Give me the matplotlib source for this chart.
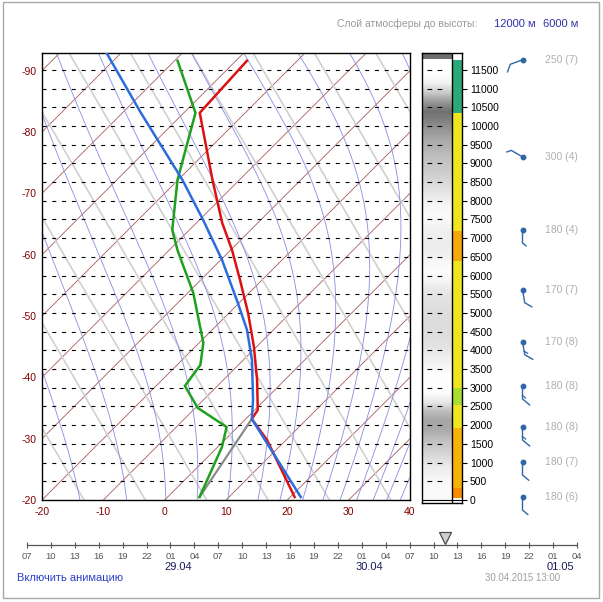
import numpy as np
import matplotlib
matplotlib.use("Agg")
import matplotlib.pyplot as plt
from matplotlib.patches import Rectangle

plt.rcParams['font.family'] = ['Liberation Sans', 'DejaVu Sans']

W, H = 603, 602

# --- data ----------------------------------------------------------------
# temperature profile (height m, deg C)
temp_h = [80, 1605, 2166, 2407, 3209, 4092, 5001, 5884, 6686, 7408, 8558, 10350, 11741]
temp_t = [20.7, 6.9, 1.0, 0.5, -4.5, -10.4, -16.9, -23.6, -29.8, -35.8, -44.4, -57.4, -58.2]

# dew point profile
dew_h = [80, 1417, 1952, 2460, 3049, 3610, 4199, 5536, 6686, 7221, 8558, 10350, 11741]
dew_t = [5.2, 0.7, -1.8, -9.6, -15.3, -16.2, -19.3, -29.1, -38.7, -42.8, -50.1, -58.1, -69.5]

# parcel (state) curve
parcel_h = [80, 2166, 2674, 3744, 4546, 5269, 6419, 7488, 8558, 10350, 11955]
parcel_t = [21.7, 1.0, -1.9, -8.6, -14.3, -20.2, -29.8, -39.4, -49.3, -67.0, -82.4]

# dew point -> condensation level
cond_h = [80, 2166]
cond_t = [5.2, 1.0]

# background diagram lines
isotherms = list(range(-110, 41, 10))
dry_theta = list(range(260, 351, 10))          # K
moist_start = [-30, -21.5, -13.8, -6.2, 0.2, 5.3, 10.3, 15.2, 18.8,
               22.5, 25.8, 28.6, 31.3, 34.0, 36.2, 38.4]   # surface deg C

x_ticks = [-20, -10, 0, 10, 20, 30, 40]
left_labels = [-20, -30, -40, -50, -60, -70, -80, -90]
height_ticks = list(range(0, 11501, 500))

# cloud shading per 250 m layer (0 = black, 255 = white)
cloud_gray = [250, 248, 244, 235, 220, 205, 190, 170, 165, 190,
              232, 252, 254, 252, 244, 236, 226, 222, 220, 220,
              222, 226, 232, 246, 252, 246, 238, 236, 238, 245,
              250, 244, 234, 222, 210, 200, 192, 180, 168, 150,
              130, 112, 150, 200, 240, 255, 255]

# coloured layer strip
band_lo = [10350, 7190, 6390, 3000, 2540, 1925, 320, 50]
band_hi = [11767, 10350, 7190, 6390, 3000, 2540, 1925, 320]
band_col = ['#2ea87a', '#f0e620', '#f7a80c', '#f0e620', '#a6de32', '#f0e620', '#f7b20a', '#f78c00']

# wind
wind_h = [80, 1016, 1952, 3049, 4226, 5616, 7221, 9173, 11767]
wind_dir = [180, 180, 180, 180, 170, 170, 180, 300, 250]
wind_spd = [6, 7, 8, 8, 8, 7, 4, 4, 7]

# time line
hour_labels = ['07', '10', '13', '16', '19', '22', '01', '04'] * 3
date_idx = [6, 14, 22]
date_labels = ['29.04', '30.04', '01.05']
time_marker = 17.5

# --- geometry ------------------------------------------------------------
H_TOP = 11950.0
X_MIN, X_MAX = -20, 40
AX_L, AX_R, AX_T, AX_B = 42, 410, 53, 500
M_PER_PX = H_TOP / (AX_B - AX_T)
SKEW = (1.0 / M_PER_PX) / ((AX_R - AX_L) / (X_MAX - X_MIN))   # 45 deg isotherms
DRY_LAPSE = 0.00965


def pres(h):
    return 1013.25 * (1 - 0.0065 * h / 288.15) ** 5.2559


def theta_e(tc, p):
    tk = tc + 273.15
    es = 6.112 * np.exp(17.67 * tc / (tc + 243.5))
    rs = 0.622 * es / (p - es)
    return tk * (1000.0 / p) ** 0.2854 * np.exp(2.5e6 * rs / (1004.0 * tk))


def skx(t, h):
    return np.asarray(t) + SKEW * np.asarray(h)


fig = plt.figure(figsize=(W / 100, H / 100), dpi=100)
fig.patch.set_facecolor('white')

ax = fig.add_axes([AX_L / W, 1 - AX_B / H, (AX_R - AX_L) / W, (AX_B - AX_T) / H])
ax.set_xlim(X_MIN, X_MAX)
ax.set_ylim(0, H_TOP)

hh = np.linspace(0, H_TOP, 240)
for t in isotherms:
    ax.plot(skx(t, hh), hh, color='#a65a5a', lw=0.6, zorder=1)
for th in dry_theta:
    ax.plot(skx(th - 273.15 - DRY_LAPSE * hh, hh), hh, color='#d0d0d0', lw=1.2, zorder=1)

pp = pres(hh)
tgrid = np.linspace(-130, 50, 3601)
te_grid = theta_e(tgrid[None, :], pp[:, None])
for t0 in moist_start:
    target = theta_e(t0, pres(0.0))
    tprof = np.array([np.interp(target, te_grid[i], tgrid) for i in range(len(hh))])
    ax.plot(skx(tprof, hh), hh, color='#8a8ae6', lw=0.6, zorder=1)

for h in height_ticks[1:]:
    ax.axhline(h, color='black', lw=0.8, ls=(0, (3.6, 5.2)), zorder=2)

ax.plot(skx(cond_t, cond_h), cond_h, color='#8a8a8a', lw=1.6, zorder=3)
ax.plot(skx(dew_t, dew_h), dew_h, color='#1fa01f', lw=1.8, zorder=4)
ax.plot(skx(temp_t, temp_h), temp_h, color='#dd1111', lw=1.8, zorder=4)
ax.plot(skx(parcel_t, parcel_h), parcel_h, color='#2b6de0', lw=1.8, zorder=5)

ax.set_xticks(x_ticks)
ax.set_xticklabels([str(v) for v in x_ticks])
ax.set_yticks([(-20 - v) / SKEW for v in left_labels])
ax.set_yticklabels([str(v) for v in left_labels])
ax.tick_params(axis='x', length=0, pad=5, labelsize=7.5, labelcolor='#800000')
ax.tick_params(axis='y', length=0, pad=3.6, labelsize=7.5, labelcolor='#800000')
for s in ax.spines.values():
    s.set_linewidth(1.0)

# --- side panel ------------------------------------------------------------
pax = fig.add_axes([422 / W, 1 - 503 / H, 40 / W, 450 / H])
pax.set_xlim(0, 40)
pax.set_ylim(-80, H_TOP)
col = np.repeat(np.array(cloud_gray, dtype=float)[:, None], 2, axis=1)
pax.imshow(col, origin='lower', extent=(0, 30, 0, 250 * len(cloud_gray)), cmap='gray',
           vmin=0, vmax=255, interpolation='bilinear', aspect='auto', zorder=0)
pax.add_patch(Rectangle((0, 11790), 30, H_TOP - 11790, color='#6e6e6e', lw=0, zorder=1))
for lo, hi, c in zip(band_lo, band_hi, band_col):
    pax.fill_between([30, 40], lo, hi, color=c, lw=0, zorder=1)
pax.hlines(height_ticks[1:], 5, 23, colors='black', lw=0.8, linestyles=[(0, (4.3, 4.7))], zorder=2)
pax.axvline(30, color='black', lw=1.0, zorder=3)
pax.axhline(0, color='black', lw=0.8, zorder=3)
pax.yaxis.tick_right()
pax.set_yticks(height_ticks)
pax.set_yticklabels([str(v) for v in height_ticks])
pax.set_xticks([])
pax.tick_params(axis='y', length=3.5, width=0.8, pad=2.2, labelsize=7.5)
for s in pax.spines.values():
    s.set_linewidth(1.0)

# --- wind ------------------------------------------------------------------
wax = fig.add_axes([480 / W, 1 - AX_B / H, 123 / W, (AX_B - AX_T) / H])
wax.set_xlim(480, 603)
wax.set_ylim(0, H_TOP)
wax.axis('off')
for h, d, v in zip(wind_h, wind_dir, wind_spd):
    x0 = 522.5
    a = np.radians(d)
    ux, uy = np.sin(a), np.cos(a)
    x1, y1 = x0 + 13 * ux, h + 13 * uy * M_PER_PX
    phi = np.arctan2(uy, ux) + np.radians(50)
    bl = 1.15 * v
    x2, y2 = x1 + bl * np.cos(phi), y1 + bl * np.sin(phi) * M_PER_PX
    wax.plot([x0, x1, x2], [h, y1, y2], color='#2f66a8', lw=1.0, clip_on=False)
    if v >= 8:
        xb, yb = x0 + 9.5 * ux, h + 9.5 * uy * M_PER_PX
        wax.plot([xb, xb + 4 * np.cos(phi)], [yb, yb + 4 * np.sin(phi) * M_PER_PX],
                 color='#2f66a8', lw=0.9, clip_on=False)
    wax.plot([x0], [h], 'o', ms=3.2, color='#2f66a8', clip_on=False)
    wax.text(545, h, '%d (%d)' % (d, v), fontsize=7.5, color='#b0b0b0', va='center', ha='left')

# --- header / footer -------------------------------------------------------
fig.text(337 / W, 1 - 24 / H, 'Слой атмосферы до высоты:', fontsize=7.5, color='#9a9a9a', va='center')
fig.text(494 / W, 1 - 24 / H, '12000 м', fontsize=8, color='#3030a8', va='center')
fig.text(543 / W, 1 - 24 / H, '6000 м', fontsize=8, color='#3030a8', va='center')

tax = fig.add_axes([27 / W, 1 - 545 / H, 550 / W, 20 / H])
tax.set_xlim(0, len(hour_labels) - 1)
tax.set_ylim(0, 20)
tax.patch.set_visible(False)
for k in ['top', 'left', 'right']:
    tax.spines[k].set_visible(False)
tax.spines['bottom'].set_color('#555555')
tax.spines['bottom'].set_linewidth(0.9)
tax.set_yticks([])
tax.set_xticks(range(len(hour_labels)))
tax.set_xticklabels(hour_labels)
tax.tick_params(axis='x', direction='inout', length=5, width=0.8, color='#555555',
                labelsize=6.8, labelcolor='#555555', pad=2.5)
tax.plot([time_marker], [7], marker='v', ms=8, mfc='#d0d0d0', mec='#4a4a4a', mew=0.9, clip_on=False)
for i, lbl in zip(date_idx, date_labels):
    tax.annotate(lbl, xy=(i, 0), xytext=(5.4, -15.8), textcoords='offset points',
                 ha='center', va='center', fontsize=8, color='#1a1a5a')

fig.text(17 / W, 1 - 578 / H, 'Включить анимацию', fontsize=8, color='#2a3fc8', va='center')
fig.text(560 / W, 1 - 578 / H, '30.04.2015 13:00', fontsize=7, color='#a0a0a0', va='center', ha='right')

fig.patches.append(Rectangle((3 / W, 1 - 598 / H), 596 / W, 596 / H, transform=fig.transFigure,
                             fill=False, ec='#a8a8a8', lw=1.0))

fig.savefig('out.png', dpi=100)
